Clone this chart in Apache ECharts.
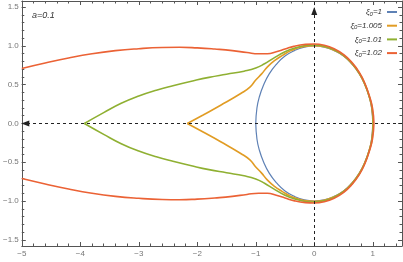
<!DOCTYPE html>
<html>
<head>
<meta charset="utf-8">
<script src="https://cdn.jsdelivr.net/npm/echarts@6/dist/echarts.min.js"></script>
<style>html,body{margin:0;padding:0;background:#fff}#c{width:403px;height:262px}</style>
</head>
<body>
<div id="c"></div>
<script>
// ---- data ----
const legendNames = ['1', '1.005', '1.01', '1.02'];
const colors = ['#5E81B5', '#E19C24', '#8FB032', '#EB6235'];

const xi1Upper = [[-1,0],[-0.98,0.2],[-0.94,0.34],[-0.87,0.49],[-0.77,0.64],[-0.64,0.77],[-0.5,0.87],[-0.34,0.94],[-0.17,0.985],[0,1],[0.17,0.985],[0.34,0.94],[0.5,0.87],[0.64,0.77],[0.77,0.64],[0.87,0.49],[0.94,0.34],[0.98,0.2],[1,0]];
const xi1Lower = [[-1,0],[-0.98,-0.2],[-0.94,-0.34],[-0.87,-0.49],[-0.77,-0.64],[-0.64,-0.77],[-0.5,-0.87],[-0.34,-0.94],[-0.17,-0.985],[0,-1],[0.17,-0.985],[0.34,-0.94],[0.5,-0.87],[0.64,-0.77],[0.77,-0.64],[0.87,-0.49],[0.94,-0.34],[0.98,-0.2],[1,0]];

const xi1005Upper = [[-2.17,0],[-1.9,0.11],[-1.6,0.235],[-1.25,0.39],[-1.1,0.47],[-1.0,0.56],[-0.9,0.64],[-0.8,0.73],[-0.68,0.81],[-0.55,0.875],[-0.4,0.94],[-0.2,0.99],[0,1.005],[0.17,0.99],[0.34,0.945],[0.5,0.875],[0.64,0.775],[0.77,0.645],[0.87,0.495],[0.94,0.345],[0.985,0.2],[1.005,0]];
const xi1005Lower = [[-2.17,0],[-1.9,-0.11],[-1.6,-0.235],[-1.25,-0.39],[-1.1,-0.47],[-1.0,-0.56],[-0.9,-0.64],[-0.8,-0.73],[-0.68,-0.81],[-0.55,-0.875],[-0.4,-0.94],[-0.2,-0.99],[0,-1.005],[0.17,-0.99],[0.34,-0.945],[0.5,-0.875],[0.64,-0.775],[0.77,-0.645],[0.87,-0.495],[0.94,-0.345],[0.985,-0.2],[1.005,0]];

const xi101Upper = [[-3.93,0],[-3.6,0.14],[-3.3,0.26],[-3.0,0.355],[-2.7,0.43],[-2.4,0.49],[-2.1,0.545],[-1.8,0.595],[-1.5,0.635],[-1.2,0.675],[-1.0,0.715],[-0.85,0.77],[-0.7,0.84],[-0.5,0.925],[-0.3,0.98],[-0.15,1.005],[0,1.012],[0.17,0.997],[0.34,0.952],[0.5,0.88],[0.64,0.78],[0.77,0.65],[0.87,0.5],[0.94,0.35],[0.99,0.2],[1.01,0]];
const xi101Lower = [[-3.93,0],[-3.6,-0.14],[-3.3,-0.26],[-3.0,-0.355],[-2.7,-0.43],[-2.4,-0.49],[-2.1,-0.545],[-1.8,-0.595],[-1.5,-0.635],[-1.2,-0.675],[-1.0,-0.715],[-0.85,-0.77],[-0.7,-0.84],[-0.5,-0.925],[-0.3,-0.98],[-0.15,-1.005],[0,-1.012],[0.17,-0.997],[0.34,-0.952],[0.5,-0.88],[0.64,-0.78],[0.77,-0.65],[0.87,-0.5],[0.94,-0.35],[0.99,-0.2],[1.01,0]];

const xi102Upper = [[-5,0.71],[-4.6,0.78],[-4.2,0.845],[-3.8,0.9],[-3.4,0.94],[-3.0,0.965],[-2.6,0.98],[-2.3,0.983],[-2.0,0.975],[-1.7,0.96],[-1.4,0.94],[-1.15,0.915],[-0.95,0.9],[-0.8,0.9],[-0.65,0.925],[-0.5,0.96],[-0.35,0.995],[-0.15,1.02],[0,1.025],[0.17,1.01],[0.34,0.965],[0.5,0.89],[0.64,0.79],[0.77,0.66],[0.87,0.51],[0.94,0.36],[0.995,0.2],[1.02,0]];
const xi102Lower = [[-5,-0.71],[-4.6,-0.78],[-4.2,-0.845],[-3.8,-0.9],[-3.4,-0.94],[-3.0,-0.965],[-2.6,-0.98],[-2.3,-0.983],[-2.0,-0.975],[-1.7,-0.96],[-1.4,-0.94],[-1.15,-0.915],[-0.95,-0.9],[-0.8,-0.9],[-0.65,-0.925],[-0.5,-0.96],[-0.35,-0.995],[-0.15,-1.02],[0,-1.025],[0.17,-1.01],[0.34,-0.965],[0.5,-0.89],[0.64,-0.79],[0.77,-0.66],[0.87,-0.51],[0.94,-0.36],[0.995,-0.2],[1.02,0]];

const xMajor = [-5,-4,-3,-2,-1,0,1];
const xTickLabels = ['\u22125','\u22124','\u22123','\u22122','\u22121','0','1'];
const xMinor = [-5,-4.8,-4.6,-4.4,-4.2,-4,-3.8,-3.6,-3.4,-3.2,-3,-2.8,-2.6,-2.4,-2.2,-2,-1.8,-1.6,-1.4,-1.2,-1,-0.8,-0.6,-0.4,-0.2,0,0.2,0.4,0.6,0.8,1,1.2,1.4];
const yMajor = [-1.5,-1,-0.5,0,0.5,1,1.5];
const yTickLabels = ['\u22121.5','\u22121.0','\u22120.5','0.0','0.5','1.0','1.5'];
const yMinor = [-1.5,-1.4,-1.3,-1.2,-1.1,-1,-0.9,-0.8,-0.7,-0.6,-0.5,-0.4,-0.3,-0.2,-0.1,0,0.1,0.2,0.3,0.4,0.5,0.6,0.7,0.8,0.9,1,1.1,1.2,1.3,1.4,1.5];

const X_MIN = -5, X_MAX = 1.5, Y_MIN = -1.58, Y_MAX = 1.58;

// ---- chart ----
const chart = echarts.init(document.getElementById('c'), null, {renderer: 'canvas'});
const font = 'Liberation Sans';
const frameColor = '#555';

function xAx(pos, showLabel, ticks, len, lineShow) {
  return {
    type: 'value', position: pos, min: X_MIN, max: X_MAX,
    axisLine: {show: lineShow, onZero: false, lineStyle: {color: frameColor, width: 1}},
    axisTick: {show: true, inside: true, length: len, customValues: ticks, lineStyle: {color: frameColor, width: 1}},
    axisLabel: showLabel ? {show: true, customValues: xMajor, margin: 4, color: '#777', fontSize: 8, fontFamily: font,
      formatter: v => { const i = xMajor.findIndex(m => Math.abs(m - v) < 1e-6); return i >= 0 ? xTickLabels[i] : ''; }} : {show: false},
    splitLine: {show: false}
  };
}
function yAx(pos, showLabel, ticks, len, lineShow) {
  return {
    type: 'value', position: pos, min: Y_MIN, max: Y_MAX,
    axisLine: {show: lineShow, onZero: false, lineStyle: {color: frameColor, width: 1}},
    axisTick: {show: true, inside: true, length: len, customValues: ticks, lineStyle: {color: frameColor, width: 1}},
    axisLabel: showLabel ? {show: true, customValues: yMajor, margin: 3, color: '#777', fontSize: 8, fontFamily: font,
      formatter: v => { const i = yMajor.findIndex(m => Math.abs(m - v) < 1e-6); return i >= 0 ? yTickLabels[i] : ''; }} : {show: false},
    splitLine: {show: false}
  };
}

const halves = [[xi1Upper, xi1Lower], [xi1005Upper, xi1005Lower], [xi101Upper, xi101Lower], [xi102Upper, xi102Lower]];
const series = [];
halves.forEach((pair, k) => {
  pair.forEach(d => {
    series.push({
      type: 'line', name: legendNames[k], data: d, xAxisIndex: 0, yAxisIndex: 0,
      showSymbol: false, symbol: 'none', smooth: 0.5,
      lineStyle: {color: colors[k], width: k === 0 ? 1.2 : 1.6},
      itemStyle: {color: colors[k]}, z: 3 + k, silent: true
    });
  });
});
series.push({
  type: 'line', name: 'axesLines', data: [], xAxisIndex: 0, yAxisIndex: 0, silent: true,
  markLine: {
    silent: true, animation: false, z: 10,
    label: {show: false},
    lineStyle: {color: '#222', width: 1, type: [3, 3]},
    symbolSize: [6, 8],
    data: [
      [{coord: [1.5, 0], symbol: 'none'}, {coord: [-4.94, 0], symbol: 'triangle'}],
      [{coord: [0, Y_MIN], symbol: 'none'}, {coord: [0, 1.45], symbol: 'triangle'}],
      [{coord: [0, 1.45], symbol: 'none'}, {coord: [0, Y_MAX], symbol: 'none'}]
    ]
  }
});

chart.setOption({
  animation: false,
  backgroundColor: '#fff',
  grid: {left: 20, right: 1, top: 1, bottom: 16, containLabel: false},
  xAxis: [
    xAx('bottom', true, xMajor, 4, true),
    xAx('bottom', false, xMinor, 2.5, false),
    xAx('top', false, xMajor, 4, true),
    xAx('top', false, xMinor, 2.5, false)
  ],
  yAxis: [
    yAx('left', true, yMajor, 4, true),
    yAx('left', false, yMinor, 2.5, false),
    yAx('right', false, yMajor, 4, true),
    yAx('right', false, yMinor, 2.5, false)
  ],
  legend: {
    data: legendNames, orient: 'vertical', right: 6, top: 7, padding: 0,
    align: 'right', itemWidth: 10, itemHeight: 2, itemGap: 3.7, icon: 'rect',
    selectedMode: false,
    formatter: n => '{i|\u03be}{s|0}{i|=' + n + '}',
    textStyle: {
      width: 25, color: '#333', fontFamily: font, fontSize: 8, lineHeight: 10,
      rich: {
        i: {fontStyle: 'italic', fontSize: 8, fontFamily: font, color: '#333', lineHeight: 10},
        s: {fontStyle: 'italic', fontSize: 6, fontFamily: font, color: '#333', verticalAlign: 'bottom', lineHeight: 8, padding: [3, 0, 0, 0]}
      }
    }
  },
  graphic: [{
    type: 'text', left: 32, top: 11, silent: true,
    style: {text: 'a=0.1', fontStyle: 'italic', fontSize: 9, fontFamily: font, fill: '#333'}
  }],
  series: series
});
</script>
</body>
</html>
